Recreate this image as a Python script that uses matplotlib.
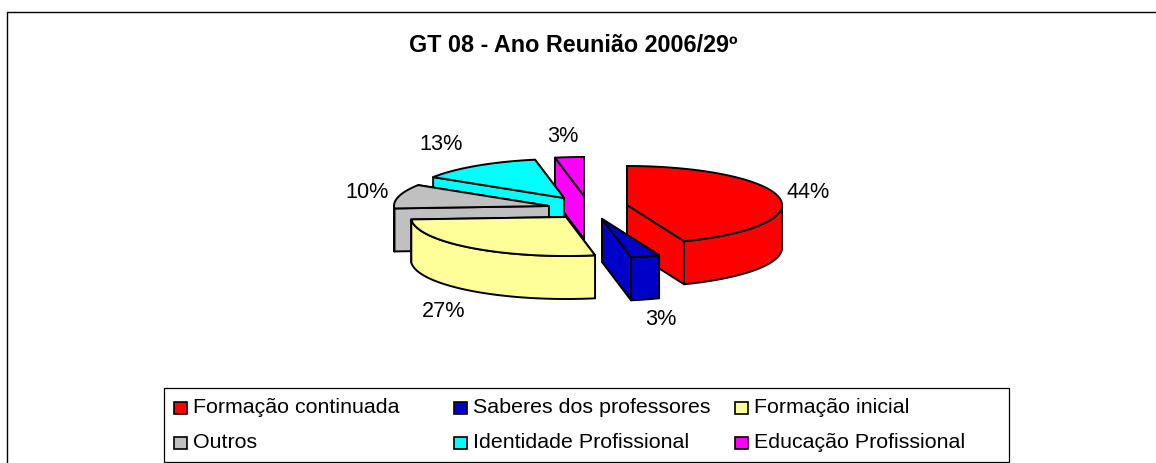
#!/usr/bin/env python3
import numpy as np
import matplotlib
matplotlib.use('Agg')
import matplotlib.pyplot as plt
from matplotlib.patches import Polygon, Rectangle

plt.rcParams['font.family'] = ['Liberation Sans', 'DejaVu Sans']

# Data
categories = ['Formação continuada', 'Saberes dos professores', 'Formação inicial',
              'Outros', 'Identidade Profissional', 'Educação Profissional']
values = [44, 3, 27, 10, 13, 3]
pct_labels = ['44%', '3%', '27%', '10%', '13%', '3%']
title = 'GT 08 - Ano Reunião 2006/29º'

# Styles / layout (pixel coords)
colors = ['#FF0000', '#0000C8', '#FFFF99', '#C0C0C0', '#00FFFF', '#FF00FF']
apex = [(627, 206), (602, 220), (566, 218), (549, 207), (564, 199), (584, 197)]
label_pos = [(808, 193), (661, 320), (444, 312), (367, 193), (441, 145), (563, 137)]
draw_order = [5, 4, 3, 2, 0, 1]
RX, RY, DEPTH = 155, 39, 43
LW = 1.4

fig = plt.figure(figsize=(11.56, 4.64), dpi=100)
ax = fig.add_axes([0, 0, 1, 1])
ax.set_xlim(0, 1156)
ax.set_ylim(464, 0)
ax.axis('off')


def outer(cx, cy, deg):
    a = np.radians(deg)
    return cx + RX * np.sin(a), cy - RY * np.cos(a)


def poly(pts, fc):
    ax.add_patch(Polygon(pts, closed=True, facecolor=fc, edgecolor='black',
                         linewidth=LW, joinstyle='round'))


# pie slices, clockwise from 12 o'clock
edges = np.cumsum([0] + values) * 3.6
for i in draw_order:
    cx, cy = apex[i]
    a0, a1 = edges[i], edges[i + 1]
    c = colors[i]
    # cut faces, back one first
    ends = sorted([a0, a1], key=lambda d: outer(cx, cy, d)[1])
    for d in ends:
        x, y = outer(cx, cy, d)
        poly([(cx, cy), (x, y), (x, y + DEPTH), (cx, cy + DEPTH)], c)
    # rim, front part only
    lo, hi = max(a0, 90), min(a1, 270)
    if hi > lo:
        t = np.linspace(lo, hi, 60)
        px, py = outer(cx, cy, t)
        rim = list(zip(px, py)) + list(zip(px[::-1], py[::-1] + DEPTH))
        poly(rim, c)
    # top face
    t = np.linspace(a0, a1, 80)
    px, py = outer(cx, cy, t)
    poly([(cx, cy)] + list(zip(px, py)), c)

for lab, (x, y) in zip(pct_labels, label_pos):
    ax.text(x, y, lab, fontsize=15.6, ha='center', va='center', color='black')

ax.text(573, 45.5, title, fontsize=16.8, fontweight='bold', ha='center', va='center')

# chart frame
ax.plot([7, 7, 1156], [464, 12.5, 12.5], color='black', lw=1.0, clip_on=False)

# legend
ax.add_patch(Rectangle((164, 389), 845, 74, facecolor='white', edgecolor='black', linewidth=0.9))
col_x = [174, 454, 735]
row_y = [408.5, 443.5]
for i, lab in enumerate(categories):
    x, y = col_x[i % 3], row_y[i // 3]
    ax.add_patch(Rectangle((x, y - 6), 13, 12.5, facecolor=colors[i], edgecolor='black', linewidth=1.2))
    ax.text(x + 19, y - 0.5, lab, fontsize=15.4, ha='left', va='center', color='black')

fig.savefig('out.png', dpi=100)
